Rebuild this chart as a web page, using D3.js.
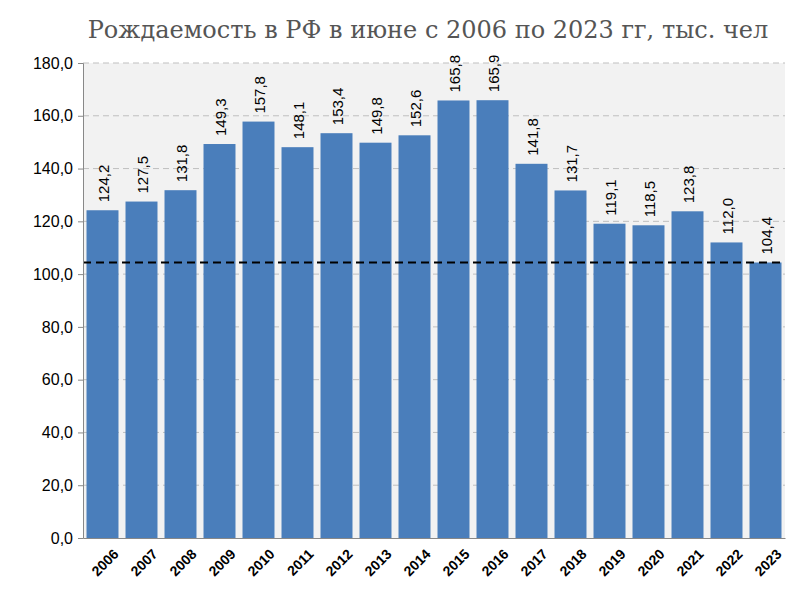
<!DOCTYPE html>
<html><head><meta charset="utf-8">
<script src="https://cdn.jsdelivr.net/npm/d3@7/dist/d3.min.js"></script>
<style>body{margin:0;background:#fff}</style></head>
<body><svg id="c" width="800" height="605"></svg>
<script>
const years=["2006","2007","2008","2009","2010","2011","2012","2013","2014","2015","2016","2017","2018","2019","2020","2021","2022","2023"];
const values=[124.2,127.5,131.8,149.3,157.8,148.1,153.4,149.8,152.6,165.8,165.9,141.8,131.7,119.1,118.5,123.8,112.0,104.4];
const yTicks=[0,20,40,60,80,100,120,140,160,180];
const refValue=104.4;
const title="Рождаемость в РФ в июне с 2006 по 2023 гг, тыс. чел";

const svg=d3.select("#c");
const m={l:83,r:15,t:63,b:67};
const W=800-m.l-m.r,H=605-m.t-m.b;
const fmt=v=>v.toFixed(1).replace(".",",");
const x=d3.scaleBand().domain(years).range([m.l,m.l+W]).paddingInner(0.18).paddingOuter(0.09);
const y=d3.scaleLinear().domain([0,180]).range([m.t+H,m.t]);

svg.append("rect").attr("x",m.l).attr("y",m.t).attr("width",W).attr("height",H).attr("fill","#f2f2f2");
svg.append("g").selectAll("line").data(yTicks.slice(1)).join("line")
 .attr("x1",m.l).attr("x2",m.l+W).attr("y1",d=>y(d)).attr("y2",d=>y(d))
 .attr("stroke","#bfbfbf").attr("stroke-dasharray","6,4");

svg.append("g").selectAll("rect").data(values).join("rect")
 .attr("x",(d,i)=>x(years[i])).attr("width",x.bandwidth())
 .attr("y",d=>y(d)).attr("height",d=>y(0)-y(d)).attr("fill","#4a7ebb");

svg.append("line").attr("x1",m.l).attr("x2",m.l+W).attr("y1",y(refValue)).attr("y2",y(refValue))
 .attr("stroke","#000").attr("stroke-width",2).attr("stroke-dasharray","8,5");

svg.append("g").selectAll("text").data(values).join("text")
 .attr("transform",(d,i)=>`translate(${x(years[i])+x.bandwidth()/2+6},${y(d)-8}) rotate(-90)`)
 .attr("font-family","Liberation Sans, Arial").attr("font-size",15).attr("fill","#000")
 .text(d=>fmt(d));

const ya=svg.append("g").attr("transform",`translate(${m.l},0)`)
 .call(d3.axisLeft(y).tickValues(yTicks).tickFormat(fmt).tickSize(5));
ya.select(".domain").attr("stroke","#888");
ya.selectAll("line").attr("stroke","#888");
ya.selectAll("text").attr("font-family","Liberation Sans, Arial").attr("font-size",16).attr("fill","#000").attr("dx","-2");

const xa=svg.append("g").attr("transform",`translate(0,${m.t+H})`)
 .call(d3.axisBottom(x).tickSize(0));
xa.select(".domain").attr("stroke","#888");
xa.selectAll("text").attr("font-family","Liberation Sans, Arial").attr("font-size",14).attr("font-weight","bold").attr("fill","#000")
 .attr("text-anchor","end").attr("transform","translate(8,8) rotate(-45)").attr("dy","0.7em");

svg.append("text").attr("x",428).attr("y",38).attr("text-anchor","middle")
 .attr("font-family","DejaVu Serif, Liberation Serif").attr("font-size",24).attr("fill","#555").text(title);
</script></body></html>
